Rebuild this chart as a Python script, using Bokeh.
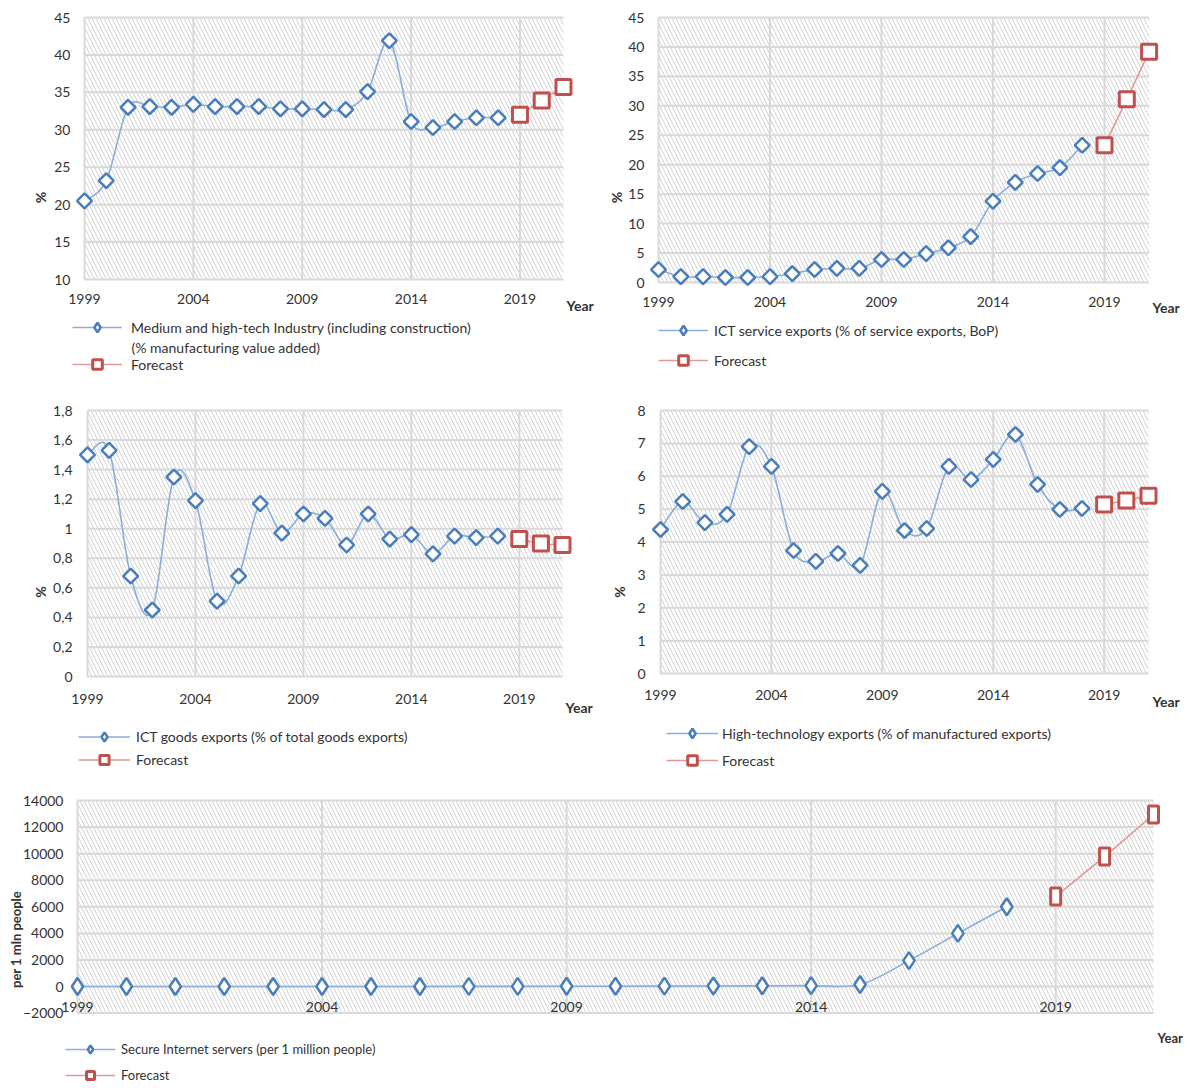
import numpy as np
from bokeh.plotting import figure
from bokeh.models import Range1d, FixedTicker, BoxAnnotation, Legend, LegendItem, Label
from bokeh.layouts import column, row
from bokeh.embed import file_html
from bokeh.resources import INLINE

# ---------------- data ----------------
years = list(range(1999, 2019))
forecast_years = [2019, 2020, 2021]
tick_years = [1999, 2004, 2009, 2014, 2019]

mht_values = [20.5, 23.2, 33.0, 33.1, 33.0, 33.4, 33.1, 33.1, 33.1, 32.8,
              32.8, 32.7, 32.7, 35.1, 41.9, 31.1, 30.3, 31.1, 31.6, 31.6]
mht_forecast = [32.0, 33.9, 35.7]
mht_label = "Medium and high-tech Industry (including construction)"
mht_label2 = "(% manufacturing value added)"

icts_values = [2.2, 1.0, 1.0, 0.85, 0.85, 1.0, 1.5, 2.2, 2.4, 2.4,
               3.9, 3.9, 4.9, 5.9, 7.8, 13.8, 17.0, 18.5, 19.5, 23.3]
icts_forecast = [23.3, 31.1, 39.2]
icts_label = "ICT service exports (% of service exports, BoP)"

ictg_values = [1.50, 1.53, 0.68, 0.45, 1.35, 1.19, 0.51, 0.68, 1.17, 0.97,
               1.10, 1.07, 0.89, 1.10, 0.93, 0.96, 0.83, 0.95, 0.94, 0.95]
ictg_forecast = [0.93, 0.90, 0.89]
ictg_label = "ICT goods exports (% of total goods exports)"

hte_values = [4.38, 5.23, 4.59, 4.84, 6.90, 6.30, 3.74, 3.41, 3.65, 3.29,
              5.54, 4.35, 4.41, 6.30, 5.90, 6.51, 7.27, 5.75, 4.99, 5.02]
hte_forecast = [5.14, 5.26, 5.41]
hte_label = "High-technology exports (% of manufactured exports)"

srv_values = [0.6, 0.9, 1.3, 1.9, 2.7, 3.6, 5.0, 7.0, 9.5, 13,
              17, 22, 30, 40, 55, 70, 150, 1950, 4000, 6000]
srv_forecast = [6770, 9790, 12950]
srv_label = "Secure Internet servers (per 1 million people)"

forecast_label = "Forecast"

ticks_mht = [10, 15, 20, 25, 30, 35, 40, 45]
ticks_icts = [0, 5, 10, 15, 20, 25, 30, 35, 40, 45]
ticks_ictg = [0, 0.2, 0.4, 0.6, 0.8, 1.0, 1.2, 1.4, 1.6, 1.8]
ticklabels_ictg = ["0", "0,2", "0,4", "0,6", "0,8", "1", "1,2", "1,4", "1,6", "1,8"]
ticks_hte = [0, 1, 2, 3, 4, 5, 6, 7, 8]
ticks_srv = [-2000, 0, 2000, 4000, 6000, 8000, 10000, 12000, 14000]

# ---------------- style ----------------
FONT = "Lato"
TXT = "#333333"
BLUE = "#4a7ebb"
BLUE_LINE = "#8aaed9"
RED = "#c0504d"
RED_LINE = "#dc9a98"
GRID = "#d9d9d9"
S = 17  # negative label standoff so the fixed x axis reserves no space


def bezier_segments(xs, ys):
    xs = np.asarray(xs, float)
    ys = np.asarray(ys, float)
    n = len(xs)
    d = dict(x0=[], y0=[], x1=[], y1=[], cx0=[], cy0=[], cx1=[], cy1=[])
    for i in range(n - 1):
        im = max(i - 1, 0)
        ip = min(i + 2, n - 1)
        d["x0"].append(xs[i]); d["y0"].append(ys[i])
        d["x1"].append(xs[i + 1]); d["y1"].append(ys[i + 1])
        d["cx0"].append(xs[i] + (xs[i + 1] - xs[im]) / 6)
        d["cy0"].append(ys[i] + (ys[i + 1] - ys[im]) / 6)
        d["cx1"].append(xs[i + 1] - (xs[ip] - xs[i]) / 6)
        d["cy1"].append(ys[i + 1] - (ys[ip] - ys[i]) / 6)
    return d


def make_panel(values, forecast, yr, yticks, ylabel, canvas, data_box,
               frame_box, ytick_right, als, xlab_top, legend_cfg, main_label,
               year_off, ytick_labels=None, wide=False, second_line=None):
    cx0, cy0, cx1, cy1 = canvas
    dx0, dy0, dx1, dy1 = data_box
    fx0, fy0, fx1, fy1 = frame_box
    ymin, ymax = yr
    xs = 22.0 / (dx1 - dx0)
    ys = (ymax - ymin) / (dy1 - dy0)
    x_start = 1999 - (dx0 - fx0) * xs
    x_end = 2021 + (fx1 - dx1) * xs
    y_start = ymin - (fy1 - dy1) * ys
    y_end = ymax + (dy0 - fy0) * ys

    p = figure(frame_width=fx1 - fx0, frame_height=fy1 - fy0,
               min_border_left=fx0 - cx0, min_border_right=cx1 - fx1,
               min_border_top=fy0 - cy0, min_border_bottom=cy1 - fy1,
               x_range=Range1d(x_start, x_end), y_range=Range1d(y_start, y_end),
               output_backend="svg", toolbar_location=None,
               background_fill_color="white", border_fill_color="white")
    p.outline_line_color = None
    p.xgrid.visible = False
    p.ygrid.visible = False

    p.add_layout(BoxAnnotation(left=1999, right=2021, bottom=ymin, top=ymax,
                               fill_alpha=0, line_color=None, hatch_pattern="\\",
                               hatch_color="#d2d2d2", hatch_scale=8,
                               hatch_weight=1.0, level="image"))
    # grid lines within the plotting area
    p.segment(x0=tick_years, y0=[ymin] * len(tick_years), x1=tick_years,
              y1=[ymax] * len(tick_years), line_color=GRID, line_width=2)
    p.segment(x0=[1999] * len(yticks), y0=yticks, x1=[2021] * len(yticks),
              y1=yticks, line_color=GRID, line_width=2)

    p.xaxis.ticker = FixedTicker(ticks=tick_years)
    p.yaxis.ticker = FixedTicker(ticks=yticks)
    if ytick_labels is not None:
        p.yaxis.major_label_overrides = {t: l for t, l in zip(yticks, ytick_labels)}
    for ax in (p.xaxis[0], p.yaxis[0]):
        ax.axis_line_color = None
        ax.major_tick_line_color = None
        ax.minor_tick_line_color = None
        ax.major_tick_out = 0
        ax.major_tick_in = 0
        ax.minor_tick_out = 0
        ax.minor_tick_in = 0
        ax.major_label_text_font = FONT
        ax.major_label_text_font_size = "14px"
        ax.major_label_text_color = TXT
    p.xaxis.major_label_standoff = -S
    base = 0 if wide else ymin
    p.xaxis.fixed_location = base - (xlab_top + S) * ys
    p.yaxis.major_label_standoff = fx0 - ytick_right
    p.yaxis.axis_label = ylabel
    p.yaxis.axis_label_text_font = FONT
    p.yaxis.axis_label_text_font_style = "bold"
    p.yaxis.axis_label_text_font_size = "13px" if wide else "14px"
    p.yaxis.axis_label_text_color = TXT
    p.yaxis.axis_label_standoff = als

    # smooth lines
    p.bezier(line_color=BLUE_LINE, line_width=1.6, **bezier_segments(years, values))
    p.bezier(line_color=RED_LINE, line_width=1.6,
             **bezier_segments(forecast_years, forecast))

    # markers
    if wide:
        p.scatter(years, values, marker="diamond", size=17, fill_color="white",
                  line_color=BLUE, line_width=2.5)
        p.rect(forecast_years, forecast, width=10, height=17, width_units="screen",
               height_units="screen", fill_color="white", line_color=RED,
               line_width=3)
    else:
        p.scatter(years, values, marker="square", angle=np.pi / 4, size=10.5,
                  fill_color="white", line_color=BLUE, line_width=2.5)
        p.scatter(forecast_years, forecast, marker="square", size=15,
                  fill_color="white", line_color=RED, line_width=3)

    # legend proxies (hidden renderers of the same series)
    lb = p.line(years, values, line_color=BLUE_LINE, line_width=1.6, visible=False)
    mb = p.scatter(years, values, marker="diamond", fill_color="white",
                   line_color=BLUE, line_width=2.5, visible=False)
    lr = p.line(forecast_years, forecast, line_color=RED_LINE, line_width=1.6,
                visible=False)
    mr = p.scatter(forecast_years, forecast, marker="square", fill_color="white",
                   line_color=RED, line_width=3, visible=False)
    lgx, lgbottom, spacing, standoff, gh, gw = legend_cfg
    legend = Legend(items=[LegendItem(label=main_label, renderers=[lb, mb]),
                           LegendItem(label=forecast_label, renderers=[lr, mr])],
                    location=(lgx - fx0, fy1 - lgbottom), orientation="vertical",
                    spacing=spacing, label_standoff=standoff, glyph_height=gh,
                    glyph_width=gw, label_height=gh, padding=0, margin=0,
                    border_line_color=None, background_fill_alpha=0,
                    inactive_fill_alpha=0,
                    label_text_font=FONT,
                    label_text_font_size=("13px" if wide else "14px"),
                    label_text_color=TXT)
    p.add_layout(legend, "center")

    if second_line is not None:
        txt, tx, ty = second_line
        p.add_layout(Label(x=1999, y=ymin, x_offset=tx - dx0, y_offset=dy1 - ty,
                           text=txt, text_font=FONT, text_font_size="14px",
                           text_color=TXT, text_baseline="middle"))

    p.add_layout(Label(x=2021, y=ymin, x_offset=year_off[0] - dx1,
                       y_offset=dy1 - year_off[1], text="Year", text_font=FONT,
                       text_font_style="bold",
                       text_font_size=("13px" if wide else "14px"),
                       text_color=TXT, text_baseline="middle"))
    return p


# canvas boxes / data boxes / frame boxes in page pixels (x0, y0, x1, y1)
p1 = make_panel(mht_values, mht_forecast, (10, 45), ticks_mht, "%",
                (0, 0, 596, 386), (84, 17, 563, 279), (67, 10, 595, 384),
                70, 2, 14, (72, 376, 13, 9, 24, 50), mht_label,
                (566, 305), second_line=(mht_label2, 131, 347))
p2 = make_panel(icts_values, icts_forecast, (0, 45), ticks_icts, "%",
                (596, 0, 1189, 386), (658, 17, 1148.6, 282), (641, 10, 1188, 384),
                644, 0, 14, (658, 372, 6, 6, 24, 50), icts_label, (1152, 307))
p3 = make_panel(ictg_values, ictg_forecast, (0, 1.8), ticks_ictg, "%",
                (0, 386, 596, 782), (87, 410, 562, 676), (70, 403, 595, 780),
                72, 1, 17, (78, 771, 0, 6, 23, 52), ictg_label, (565, 707),
                ytick_labels=ticklabels_ictg)
p4 = make_panel(hte_values, hte_forecast, (0, 8), ticks_hte, "%",
                (596, 386, 1189, 782), (660, 410, 1148, 673), (643, 403, 1188, 780),
                645, 6, 16, (666, 772, 3, 4, 24, 52), hte_label, (1152, 701))
p5 = make_panel(srv_values, srv_forecast, (-2000, 14000), ticks_srv,
                "per 1 mln people", (0, 782, 1189, 1087), (77, 800, 1153, 1012.6),
                (60, 793, 1188, 1085), 63, -4, 15, (65, 1085, 6, 6, 20, 50),
                srv_label, (1157, 1037), wide=True)

layout = column(row(p1, p2), row(p3, p4), p5)
open("out.html", "w").write(file_html(layout, INLINE))
